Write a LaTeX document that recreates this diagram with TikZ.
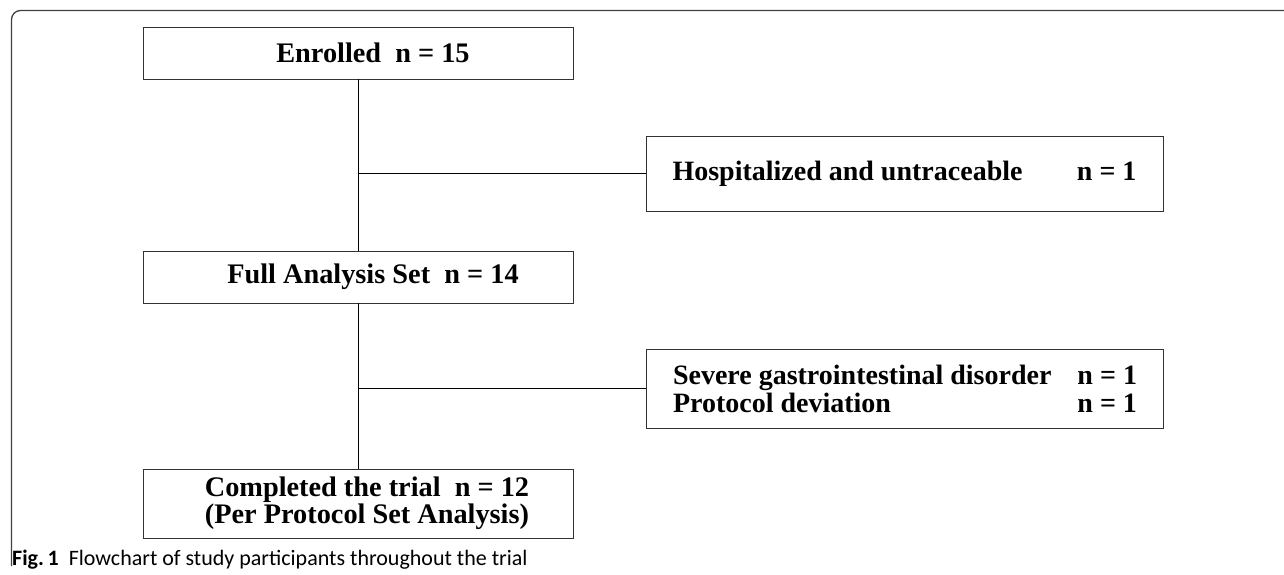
\documentclass[tikz,border=0pt]{standalone}
\usepackage{fontspec}
\setmainfont{Liberation Serif}
\newfontfamily\capfont{Carlito}
\newcommand{\shiftr}{\hspace*{18pt}}
\begin{document}
\begin{tikzpicture}[x=1pt,y=-1pt,
  mainbox/.style={draw=black!80, line width=0.9pt, minimum width=430pt, inner sep=0pt, align=center,
    font=\fontsize{28.3}{25}\selectfont\bfseries},
  sidebox/.style={draw=black!80, line width=0.9pt, minimum width=517pt, inner sep=0pt,
    font=\fontsize{28}{28}\selectfont\bfseries},
  link/.style={draw=black, line width=0.8pt}
]
\useasboundingbox (0,0) rectangle (1284,575);
\draw[black!75, line width=1.3pt, rounded corners=9pt] (11.5,566) -- (11.5,10.5) -- (1284,10.5);
\node[mainbox, minimum height=52pt] (enr) at (358,53) {\hspace*{30pt}Enrolled\ \ n = 15};
\node[mainbox, minimum height=52pt] (full) at (358,277) {\hspace*{30pt}Full Analysis Set\ \ n = 14};
\node[mainbox, minimum height=69pt] (comp) at (358,503.5) {\shiftr Completed the trial\ \ n = 12\\\shiftr(Per Protocol Set Analysis)};
\node[sidebox, minimum height=75pt] (hosp) at (904.5,173.5) {\parbox{464pt}{Hospitalized and untraceable\hfill n = 1}};
\node[sidebox, minimum height=79pt] (sev) at (905,388.5) {\parbox{464pt}{Severe gastrointestinal disorder\hfill n = 1\\Protocol deviation\hfill n = 1}};
\coordinate (j1) at (enr.south |- hosp.west);
\coordinate (j2) at (enr.south |- sev.west);
\draw[link] (enr.south) -- (full.north);
\draw[link] (full.south) -- (comp.north);
\draw[link] (j1) -- (hosp.west);
\draw[link] (j2) -- (sev.west);
\node[anchor=base west, inner sep=0pt, font=\capfont\fontsize{22}{22}\selectfont] (cap) at (12,565) {\textbf{Fig.\,1}\ \ Flowchart of study participants throughout the trial};
\end{tikzpicture}
\end{document}
